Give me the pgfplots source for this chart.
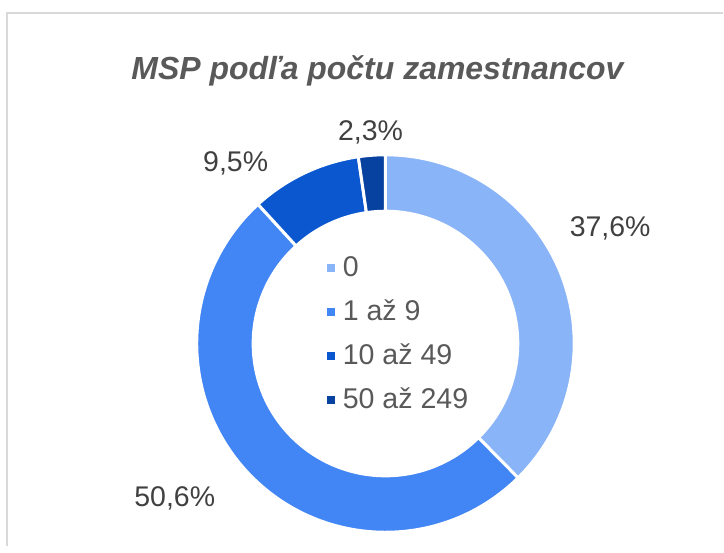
\documentclass[border=0pt]{standalone}
\usepackage{pgfplots}
\usepackage{pgfplotstable}
\pgfplotsset{compat=1.18}
\usepackage{fontspec}
\setmainfont{Liberation Sans}
\definecolor{cA}{HTML}{8AB4F8}
\definecolor{cB}{HTML}{4285F4}
\definecolor{cC}{HTML}{0B57D0}
\definecolor{cD}{HTML}{0842A0}
\definecolor{txt}{HTML}{595959}
\definecolor{lab}{HTML}{404040}
\definecolor{frame}{HTML}{D9D9D9}

\pgfplotstableread[col sep=comma]{
label,value
0,37.6
1 až 9,50.6
10 až 49,9.5
50 až 249,2.3
}\piedata

\def\angA{90}
\pgfplotstablegetelem{0}{value}\of\piedata
\pgfmathsetmacro\angB{\angA-3.6*\pgfplotsretval}
\pgfplotstablegetelem{1}{value}\of\piedata
\pgfmathsetmacro\angC{\angB-3.6*\pgfplotsretval}
\pgfplotstablegetelem{2}{value}\of\piedata
\pgfmathsetmacro\angD{\angC-3.6*\pgfplotsretval}
\pgfplotstablegetelem{3}{value}\of\piedata
\pgfmathsetmacro\angE{\angD-3.6*\pgfplotsretval}

\newcommand\slice[3]{%
  \fill[#3, draw=white, line width=3pt, line join=miter]
    (#1:189pt) arc[start angle=#1, end angle=#2, radius=189pt]
    -- (#2:132.5pt) arc[start angle=#2, end angle=#1, radius=132.5pt] -- cycle;}

\begin{document}
\begin{tikzpicture}
\begin{axis}[
  scale only axis, width=724pt, height=547pt,
  xmin=0, xmax=724, ymin=0, ymax=547,
  hide axis, clip=false,
  legend style={at={(rel axis cs:0.4517,0.530)}, anchor=north west,
    draw=none, fill=none, font=\fontsize{28.6}{34}\selectfont, text=txt,
    row sep=24pt, inner sep=0pt,
    nodes={inner sep=0pt, anchor=base west, text height=20pt, text depth=0pt}},
  legend cell align=left,
  legend image code/.code={\fill[#1, draw=none] (0pt,5pt) rectangle (8pt,13pt);\path[draw=none, fill=none] (0pt,0pt) rectangle (16pt,1pt);},
]
\path (axis cs:0,0) rectangle (axis cs:724,547);
\draw[frame, line width=2pt] (axis cs:7,0) -- (axis cs:7,534) -- (axis cs:724,534);
\begin{scope}[shift={(axis cs:386,203)}]
  \slice{\angA}{\angB}{cA}
  \slice{\angB}{\angC}{cB}
  \slice{\angC}{\angD}{cC}
  \slice{\angD}{\angE}{cD}
\end{scope}
\addlegendimage{cA}\addlegendentry{0}
\addlegendimage{cB}\addlegendentry{1 až 9}
\addlegendimage{cC}\addlegendentry{10 až 49}
\addlegendimage{cD}\addlegendentry{50 až 249}
\node[anchor=base, font=\fontsize{32}{38}\selectfont\bfseries\itshape, text=txt] at (axis cs:378,467) {MSP podľa počtu zamestnancov};
\begin{scope}[every node/.style={anchor=base, font=\fontsize{28.5}{34}\selectfont, text=lab, inner sep=0pt}]
\node at (axis cs:611,310) {37,6\%};
\node at (axis cs:175,40) {50,6\%};
\node at (axis cs:236,375) {9,5\%};
\node at (axis cs:371,406) {2,3\%};
\end{scope}
\end{axis}
\end{tikzpicture}
\end{document}
